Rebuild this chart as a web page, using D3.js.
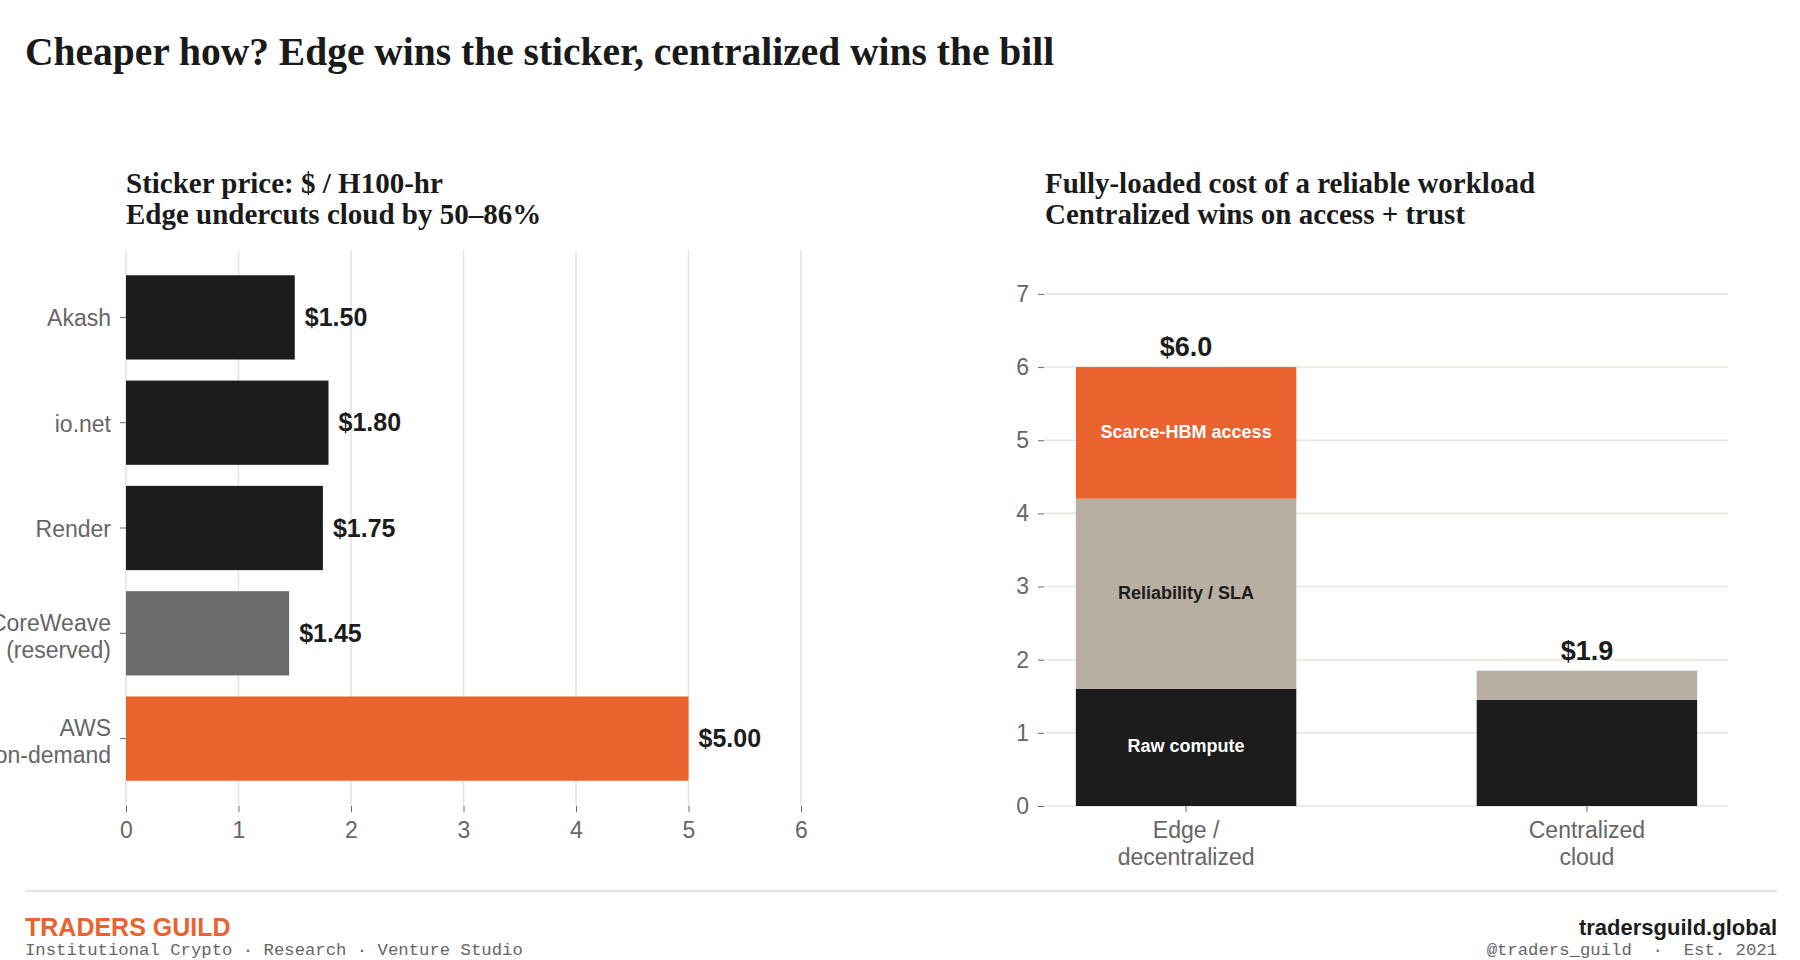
<!DOCTYPE html>
<html>
<head>
<meta charset="utf-8">
<script src="https://cdn.jsdelivr.net/npm/d3@7"></script>
<style>
  body { margin: 0; background: #fff; }
  svg { display: block; }
  .sans { font-family: "Liberation Sans", Arial, sans-serif; }
  .serif { font-family: "Liberation Serif", "Times New Roman", serif; }
  .mono { font-family: "Liberation Mono", "Courier New", monospace; }
</style>
</head>
<body>
<svg id="chart" width="1800" height="960"></svg>
<script>
// sticker price panel
const providers = ["Akash", "io.net", "Render", "CoreWeave\n(reserved)", "AWS\non-demand"];
const stickerPrice = [1.50, 1.80, 1.75, 1.45, 5.00];
const providerKind = ["edge", "edge", "edge", "reserved", "ondemand"];
const priceTicks = [0, 1, 2, 3, 4, 5, 6];

// fully-loaded cost panel
const deployments = ["Edge /\ndecentralized", "Centralized\ncloud"];
const costLayers = ["Raw compute", "Reliability / SLA", "Scarce-HBM access"];
const rawCompute = [1.6, 1.45];
const reliabilitySla = [2.6, 0.4];
const scarceHbm = [1.8, 0];
const costTicks = [0, 1, 2, 3, 4, 5, 6, 7];

const ink = '#1c1c1c', orange = '#e8632e', beige = '#b8aea2', midGray = '#6b6b6b',
    grid = '#e8e5df', tickGray = '#666';
const kindColor = { edge: ink, reserved: midGray, ondemand: orange };
const layerColor = [ink, beige, orange];
const layerText = ['#fff', ink, '#fff'];

const svg = d3.select('#chart');

// title
svg.append('text')
    .attr('class', 'serif')
    .attr('x', 25).attr('y', 65)
    .attr('font-size', 39.5).attr('font-weight', 'bold')
    .attr('fill', '#1a1a1a')
    .text('Cheaper how? Edge wins the sticker, centralized wins the bill');

// split "a\nb" tick labels into tspans, centred on the tick
const multiline = (sel, lineH) => {
    sel.each(function () {
        const t = d3.select(this), lines = t.text().split('\n');
        const extra = lines.length > 1 ? 3 : 1;
        t.text(null);
        lines.forEach((l, i) => {
            t.append('tspan')
                .attr('x', t.attr('x') || 0)
                .attr('dy', i === 0 ? `${-(lines.length - 1) * lineH / 2 + 0.35 * 23 + extra}` : lineH)
                .text(l);
        });
    });
};

const subtitle = (x, lines) => {
    lines.forEach((l, i) => {
        svg.append('text')
            .attr('class', 'serif')
            .attr('x', x).attr('y', 193 + i * 31)
            .attr('font-size', 29).attr('font-weight', 'bold')
            .attr('fill', '#1a1a1a')
            .text(l);
    });
};

// ---------- left: horizontal bars ----------
const L = { left: 126, right: 801, top: 250, bottom: 806 };
subtitle(L.left, ['Sticker price: $ / H100-hr', 'Edge undercuts cloud by 50–86%']);

const x = d3.scaleLinear().domain([0, 6]).range([L.left, L.right]);
const y = d3.scaleBand().domain(providers).range([L.top, L.bottom])
    .paddingInner(0.2).paddingOuter(0.24);

const left = svg.append('g');

left.selectAll('.vgrid')
    .data(priceTicks)
    .enter()
    .append('line')
    .attr('x1', d => x(d)).attr('x2', d => x(d))
    .attr('y1', L.top).attr('y2', L.bottom)
    .attr('stroke', grid).attr('stroke-width', 1.6);

left.selectAll('.hbar')
    .data(providers)
    .enter()
    .append('rect')
    .attr('x', x(0))
    .attr('y', d => y(d))
    .attr('width', (d, i) => x(stickerPrice[i]) - x(0))
    .attr('height', y.bandwidth())
    .attr('fill', (d, i) => kindColor[providerKind[i]]);

left.selectAll('.hval')
    .data(providers)
    .enter()
    .append('text')
    .attr('class', 'sans')
    .attr('x', (d, i) => x(stickerPrice[i]) + 10)
    .attr('y', d => y(d) + y.bandwidth() / 2 + 8.5)
    .attr('font-size', 25).attr('font-weight', 'bold')
    .attr('fill', ink)
    .text((d, i) => '$' + stickerPrice[i].toFixed(2));

const xAxis = left.append('g')
    .attr('transform', `translate(0,${L.bottom})`)
    .call(d3.axisBottom(x).tickValues(priceTicks).tickFormat(d3.format('d')).tickSize(6).tickPadding(10));
xAxis.select('.domain').remove();
xAxis.selectAll('line').attr('stroke', tickGray);
xAxis.selectAll('text').attr('class', 'sans').attr('font-size', 23).attr('fill', tickGray);

const yAxis = left.append('g')
    .attr('transform', `translate(${L.left},0)`)
    .call(d3.axisLeft(y).tickSize(6).tickPadding(9));
yAxis.select('.domain').remove();
yAxis.selectAll('line').attr('stroke', tickGray);
yAxis.selectAll('text')
    .attr('class', 'sans').attr('font-size', 23).attr('fill', tickGray)
    .attr('dy', null)
    .call(multiline, 26.5);

// ---------- right: stacked bars ----------
const R = { left: 1045, right: 1728, top: 250, bottom: 806 };
subtitle(R.left, ['Fully-loaded cost of a reliable workload', 'Centralized wins on access + trust']);

const stackRows = deployments.map((d, i) => ({
    name: d,
    'Raw compute': rawCompute[i],
    'Reliability / SLA': reliabilitySla[i],
    'Scarce-HBM access': scarceHbm[i]
}));
const series = d3.stack().keys(costLayers)(stackRows);

const xb = d3.scaleBand().domain(deployments).range([R.left, R.right])
    .paddingInner(0.45).paddingOuter(0.077);
const yb = d3.scaleLinear().domain([0, 7.6]).range([R.bottom, R.top]);

const right = svg.append('g');

right.selectAll('.hgrid')
    .data(costTicks)
    .enter()
    .append('line')
    .attr('x1', R.left).attr('x2', R.right)
    .attr('y1', d => yb(d)).attr('y2', d => yb(d))
    .attr('stroke', grid).attr('stroke-width', 1.6);

const layers = right.selectAll('.layer')
    .data(series)
    .enter()
    .append('g')
    .attr('fill', (s, i) => layerColor[i]);

layers.selectAll('rect')
    .data(s => s.filter(p => p[1] - p[0] > 0))
    .enter()
    .append('rect')
    .attr('x', p => xb(p.data.name))
    .attr('y', p => yb(p[1]))
    .attr('width', xb.bandwidth())
    .attr('height', p => yb(p[0]) - yb(p[1]));

// segment labels on the edge column only
series.forEach((s, i) => {
    const p = s[0];
    right.append('text')
        .attr('class', 'sans')
        .attr('x', xb(p.data.name) + xb.bandwidth() / 2)
        .attr('y', yb((p[0] + p[1]) / 2) + 5)
        .attr('text-anchor', 'middle')
        .attr('font-size', 18).attr('font-weight', 'bold')
        .attr('fill', layerText[i])
        .text(s.key);
});

right.selectAll('.total')
    .data(stackRows)
    .enter()
    .append('text')
    .attr('class', 'sans')
    .attr('x', d => xb(d.name) + xb.bandwidth() / 2)
    .attr('y', d => yb(d3.sum(costLayers, k => d[k])) - 11)
    .attr('text-anchor', 'middle')
    .attr('font-size', 27).attr('font-weight', 'bold')
    .attr('fill', ink)
    .text(d => '$' + (Math.round(d3.sum(costLayers, k => d[k]) * 10 + 1e-6) / 10).toFixed(1));

const xbAxis = right.append('g')
    .attr('transform', `translate(0,${R.bottom})`)
    .call(d3.axisBottom(xb).tickSize(6).tickPadding(10));
xbAxis.select('.domain').remove();
xbAxis.selectAll('line').attr('stroke', tickGray);
xbAxis.selectAll('text')
    .attr('class', 'sans').attr('font-size', 23).attr('fill', tickGray)
    .attr('dy', null)
    .each(function () {
        const t = d3.select(this), lines = t.text().split('\n');
        t.text(null);
        lines.forEach((l, i) => t.append('tspan').attr('x', 0).attr('dy', i === 0 ? '0.71em' : 27).text(l));
    });

const ybAxis = right.append('g')
    .attr('transform', `translate(${R.left - 1},0)`)
    .call(d3.axisLeft(yb).tickValues(costTicks).tickSize(6).tickPadding(9));
ybAxis.select('.domain').remove();
ybAxis.selectAll('line').attr('stroke', tickGray);
ybAxis.selectAll('text').attr('class', 'sans').attr('font-size', 23).attr('fill', tickGray);

// ---------- footer ----------
svg.append('line')
    .attr('x1', 25).attr('x2', 1777)
    .attr('y1', 891).attr('y2', 891)
    .attr('stroke', grid).attr('stroke-width', 2.5);

svg.append('text').attr('class', 'sans')
    .attr('x', 25).attr('y', 936)
    .attr('font-size', 25).attr('font-weight', 'bold').attr('fill', orange)
    .text('TRADERS GUILD');
svg.append('text').attr('class', 'mono')
    .attr('x', 25).attr('y', 955)
    .attr('font-size', 17.3).attr('fill', tickGray)
    .text('Institutional Crypto · Research · Venture Studio');
svg.append('text').attr('class', 'sans')
    .attr('x', 1777).attr('y', 935).attr('text-anchor', 'end')
    .attr('font-size', 22).attr('font-weight', 'bold').attr('fill', ink)
    .text('tradersguild.global');
svg.append('text').attr('class', 'mono')
    .attr('x', 1777).attr('y', 955).attr('text-anchor', 'end')
    .attr('font-size', 17.3).attr('fill', tickGray)
    .attr('xml:space', 'preserve').style('white-space', 'pre')
    .text('@traders_guild  ·  Est. 2021');
</script>
</body>
</html>
